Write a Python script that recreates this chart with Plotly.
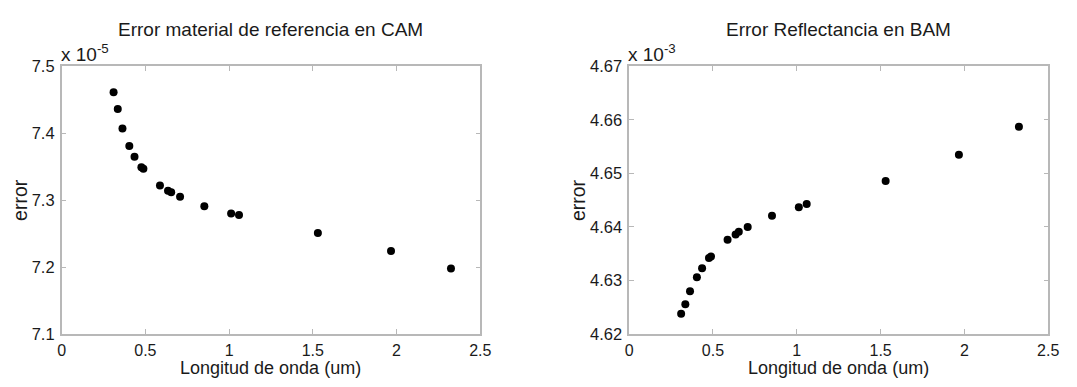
import plotly.graph_objects as go

W, H = 1077, 387

# Data
wavelength_um = [0.310, 0.335, 0.363, 0.404, 0.435, 0.476, 0.488, 0.587, 0.635,
                 0.654, 0.707, 0.852, 1.012, 1.059, 1.530, 1.967, 2.325]
error_cam = [7.461e-5, 7.436e-5, 7.407e-5, 7.381e-5, 7.365e-5, 7.349e-5, 7.347e-5,
             7.322e-5, 7.314e-5, 7.312e-5, 7.305e-5, 7.291e-5, 7.280e-5, 7.278e-5,
             7.251e-5, 7.224e-5, 7.198e-5]
error_bam = [4.6238e-3, 4.6256e-3, 4.6280e-3, 4.6306e-3, 4.6323e-3, 4.6342e-3, 4.6345e-3,
             4.6376e-3, 4.6386e-3, 4.6391e-3, 4.6400e-3, 4.6421e-3, 4.6437e-3, 4.6443e-3,
             4.6486e-3, 4.6535e-3, 4.6587e-3]

x_ticks = [0, 0.5, 1, 1.5, 2, 2.5]
x_ticklabels = ["0", "0.5", "1", "1.5", "2", "2.5"]
cam_ticks = [7.1, 7.2, 7.3, 7.4, 7.5]
cam_ticklabels = ["7.1", "7.2", "7.3", "7.4", "7.5"]
bam_ticks = [4.62, 4.63, 4.64, 4.65, 4.66, 4.67]
bam_ticklabels = ["4.62", "4.63", "4.64", "4.65", "4.66", "4.67"]

titles = ["Error material de referencia en CAM", "Error Reflectancia en BAM"]
multipliers = ["x 10<sup>-5</sup>", "x 10<sup>-3</sup>"]

FONT = "Arial, 'Liberation Sans', Helvetica, sans-serif"
FRAME = "#b8b8b8"
TXT = "#1a1a1a"

def px(x):
    return x / W

def py(y):
    return 1 - y / H

L1, R1 = 58.5, 483
L2, R2 = 634, 1059
TOP, BOT = 60, 341

fig = go.Figure()
fig.add_trace(go.Scatter(x=wavelength_um, y=[v * 1e5 for v in error_cam], mode="markers",
                         marker=dict(color="black", size=8), xaxis="x", yaxis="y",
                         showlegend=False))
fig.add_trace(go.Scatter(x=wavelength_um, y=[v * 1e3 for v in error_bam], mode="markers",
                         marker=dict(color="black", size=8), xaxis="x2", yaxis="y2",
                         showlegend=False))

axis_common = dict(showgrid=False, zeroline=False, showline=True, linecolor=FRAME,
                   linewidth=1.5, mirror="ticks", ticks="inside", ticklen=5,
                   tickcolor=FRAME, tickwidth=1)
ytickfont = dict(family=FONT, size=16.5, color=TXT)
xtickfont = dict(family=FONT, size=16, color=TXT)

fig.update_layout(
    width=W, height=H,
    margin=dict(l=0, r=0, t=0, b=0),
    paper_bgcolor="white", plot_bgcolor="white",
    font=dict(family=FONT, color=TXT),
    xaxis=dict(domain=[px(L1), px(R1)], range=[0, 2.5], tickvals=x_ticks,
               ticktext=x_ticklabels, anchor="y", ticklabelstandoff=1,
               tickfont=xtickfont, **axis_common),
    yaxis=dict(domain=[py(BOT), py(TOP)], range=[7.1, 7.5], tickvals=cam_ticks,
               ticktext=cam_ticklabels, anchor="x", ticklabelstandoff=2,
               tickfont=ytickfont, **axis_common),
    xaxis2=dict(domain=[px(L2), px(R2)], range=[0, 2.5], tickvals=x_ticks,
                ticktext=x_ticklabels, anchor="y2", ticklabelstandoff=1,
                tickfont=xtickfont, **axis_common),
    yaxis2=dict(domain=[py(BOT), py(TOP)], range=[4.62, 4.67], tickvals=bam_ticks,
                ticktext=bam_ticklabels, anchor="x2", ticklabelstandoff=2,
                tickfont=ytickfont, **axis_common),
)

ann = []
for (l, r), title, mult, ylab_x in [((L1, R1), titles[0], multipliers[0], 16),
                                    ((L2, R2), titles[1], multipliers[1], 582)]:
    cx = (l + r) / 2
    ann.append(dict(text=title, x=px(cx), y=py(21), xref="paper", yref="paper",
                    showarrow=False, xanchor="center", yanchor="middle",
                    font=dict(family=FONT, size=19, color=TXT)))
    ann.append(dict(text="Longitud de onda (um)", x=px(cx), y=0, xref="paper",
                    yref="paper", showarrow=False, xanchor="center", yanchor="bottom",
                    borderpad=0, yshift=-1, font=dict(family=FONT, size=18, color=TXT)))
    ann.append(dict(text="error", x=px(ylab_x), y=py((TOP + BOT) / 2), xref="paper",
                    yref="paper", showarrow=False, xanchor="center", yanchor="middle",
                    textangle=-90, font=dict(family=FONT, size=19.5, color=TXT)))
    ann.append(dict(text=mult, x=px(l - 3), y=py(TOP + 1), xref="paper", yref="paper",
                    showarrow=False, xanchor="left", yanchor="bottom",
                    font=dict(family=FONT, size=19, color=TXT)))
fig.update_layout(annotations=ann)

fig.write_html("out.html")
